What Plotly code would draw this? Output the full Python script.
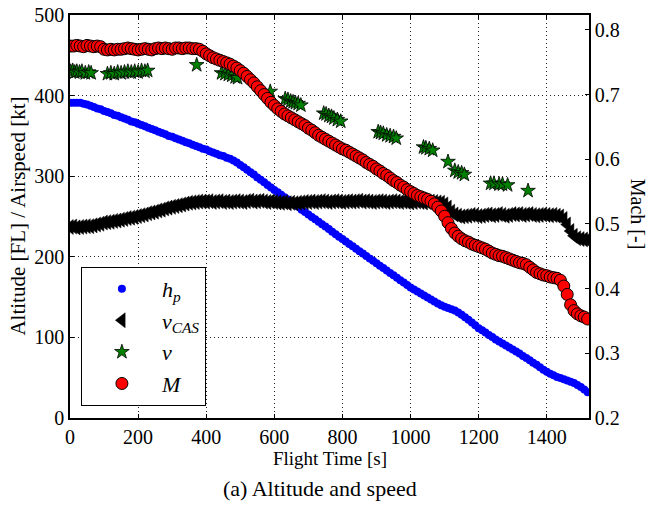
import plotly.graph_objects as go

# sample times [s] for the densely logged series (10 s spacing)
t = list(range(0, 1521, 10))

# pressure altitude h_p [FL]
h_p = [391, 391, 391, 391, 390, 389, 387.5, 386, 384, 383,
       381, 379.5, 378, 376, 375, 373, 371.5, 370, 368, 367,
       365, 363.5, 362, 360, 358.5, 357, 355, 353.5, 352, 350,
       349, 347, 345.5, 344, 342, 341, 339, 337.5, 336, 334,
       333, 331, 329.5, 328, 326, 325, 323, 321.5, 319.5, 317,
       314, 311, 308, 305, 302, 298.5, 295.5, 292.5, 289, 286,
       283, 280, 277, 274, 271, 268, 265, 262, 258.5, 255.5,
       252.5, 249.5, 246.5, 243.5, 240.5, 237.5, 234.5, 231, 228, 225,
       222, 219, 216, 213, 210, 207, 204, 201, 198, 195,
       192, 189, 186, 183, 180, 177, 174, 171, 168, 165,
       162, 159.5, 157, 154.5, 152, 149.5, 147, 144.5, 142, 140,
       138, 136.5, 135, 133.5, 131, 128, 125, 122, 118.5, 115,
       111.5, 109, 106, 103, 100.5, 97.5, 95, 92.5, 90, 87.5,
       85, 82.5, 80, 77, 74.5, 71.5, 68.5, 66, 63, 60,
       57.5, 55, 53, 51, 49.5, 48, 46.5, 45, 43.5, 41,
       38.5, 35.5, 32]

# calibrated airspeed v_CAS [kt]
v_cas = [237, 237.5, 236.5, 237, 237.5, 238, 238, 239, 240, 241,
         242.5, 243, 243.5, 244.5, 245, 246, 247, 248, 248.5, 249.5,
         250.5, 251.5, 252.5, 254, 255, 256, 257.5, 258.5, 260, 261,
         262, 263, 264, 265, 266, 267, 267.5, 268, 268.5, 268.5,
         268.5, 269, 268, 268.5, 269, 268, 268.5, 268, 268.5, 269,
         268.5, 268, 269, 269.5, 268.5, 269, 269.5, 268.5, 268, 268.5,
         268, 267.5, 267, 267.5, 266.5, 267, 266.5, 267, 267.5, 268,
         268, 268.5, 268, 268.5, 269, 268.5, 268, 268.5, 269, 268.5,
         268, 268.5, 269, 268.5, 269, 269.5, 268.5, 269, 268.5, 268,
         268.5, 269, 268.5, 268, 268.5, 269, 268.5, 268, 268.5, 268,
         267.5, 268, 268.5, 268, 267.5, 268, 268.5, 268, 267.5, 267,
         265, 261, 256, 252.5, 251, 250, 250.5, 251, 252, 251.5,
         250.5, 251, 252, 252.5, 251.5, 252, 253, 252, 251, 252,
         253, 252.5, 253, 252, 252.5, 253, 252, 251.5, 252, 252.5,
         252, 251.5, 252, 251, 250, 247, 240, 232, 226, 223,
         222, 221.5, 221]

# Mach number M [-]
mach = [.775, .775, .776, .775, .774, .776, .775, .774, .775, .774,
        .770, .769, .770, .769, .770, .770, .771, .772, .771, .770,
        .769, .770, .771, .770, .769, .771, .772, .771, .772, .771,
        .770, .772, .772, .771, .772, .772, .771, .771, .770, .767,
        .763, .760, .757, .755, .753, .751, .749, .747, .744, .741,
        .737, .733, .728, .723, .718, .712, .706, .700, .694, .688,
        .683, .678, .674, .670, .667, .664, .661, .658, .655, .652,
        .648, .645, .641, .637, .634, .631, .628, .625, .622, .619,
        .616, .614, .611, .608, .605, .602, .599, .595, .592, .589,
        .585, .582, .578, .575, .571, .567, .564, .560, .557, .553,
        .550, .547, .544, .542, .540, .538, .535, .531, .526, .520,
        .512, .502, .493, .486, .481, .477, .474, .472, .469, .467,
        .465, .463, .461, .458, .455, .453, .451, .450, .448, .446,
        .444, .442, .440, .439, .437, .433, .429, .425, .423, .421,
        .420, .418, .417, .416, .413, .404, .391, .375, .366, .361,
        .358, .356, .353]

# true airspeed v [kt] (sparse samples)
v_t = [2, 8, 14, 20, 28, 35, 45, 55, 62,
       110, 120, 130, 140, 150, 160, 170, 180, 190, 200, 210, 220, 228,
       372,
       445, 455, 465, 475, 485, 492,
       588,
       632, 640, 648, 655, 662, 670, 678,
       745, 752, 760, 768, 775, 785, 795,
       905, 912, 920, 930, 940, 950, 958,
       1038, 1045, 1055, 1065,
       1110,
       1130, 1140, 1150, 1158,
       1235, 1245, 1260, 1270, 1285,
       1345]
v_tas = [430, 431, 429, 430, 429, 430, 428, 429, 428,
         427, 428, 427, 429, 428, 429, 430, 429, 430, 429, 431, 430, 431,
         438,
         428, 427, 426, 425, 423, 422,
         405,
         396, 395, 393, 392, 391, 390, 388,
         378, 377, 375, 374, 372, 370, 368,
         355, 354, 353, 351, 350, 349, 347,
         336, 335, 334, 332,
         318,
         307, 305, 304, 302,
         291, 291, 290, 290, 289,
         282]

x_ticks = [0, 200, 400, 600, 800, 1000, 1200, 1400]
y_ticks = [0, 100, 200, 300, 400, 500]
y2_ticks = [0.2, 0.3, 0.4, 0.5, 0.6, 0.7, 0.8]

FONT = "'Liberation Serif', 'Times New Roman', 'DejaVu Serif', serif"

fig = go.Figure()
fig.add_trace(go.Scatter(x=t, y=h_p, mode="markers", name="<i>h<sub>p</sub></i>",
                         marker=dict(color="#0000ff", size=8, line=dict(width=0))))
fig.add_trace(go.Scatter(x=t, y=v_cas, mode="markers", name="<i>v<sub>CAS</sub></i>",
                         marker=dict(color="black", symbol="triangle-left", size=13,
                                     line=dict(width=0.5, color="black"))))
fig.add_trace(go.Scatter(x=v_t, y=v_tas, mode="markers", name="<i>v</i>",
                         marker=dict(color="#008000", symbol="star", size=11,
                                     line=dict(width=0.8, color="black"))))
fig.add_trace(go.Scatter(x=t, y=mach, mode="markers", name="<i>M</i>", yaxis="y2",
                         marker=dict(color="#ff0000", size=12,
                                     line=dict(width=1, color="black"))))

axis_common = dict(ticks="inside", ticklen=4, tickcolor="black", showline=True,
                   linecolor="black", linewidth=1.5, zeroline=False, automargin=False,
                   tickfont=dict(family=FONT, size=20, color="black"))

fig.update_layout(
    width=652, height=508,
    margin=dict(l=70, r=63, t=15, b=90, autoexpand=False),
    paper_bgcolor="white", plot_bgcolor="white",
    font=dict(family=FONT, size=20, color="black"),
    showlegend=True,
    legend=dict(x=0.021, y=0.375, xanchor="left", yanchor="top",
                bgcolor="white", bordercolor="black", borderwidth=1,
                font=dict(family=FONT, size=22, color="black"), itemwidth=70),
    xaxis=dict(range=[0, 1524], tickvals=x_ticks, mirror="ticks",
               showgrid=True, gridcolor="#222", gridwidth=1, griddash="1px,3px",
               **axis_common),
    yaxis=dict(range=[0, 500], tickvals=y_ticks, mirror=True,
               showgrid=True, gridcolor="#222", gridwidth=1, griddash="1px,3px",
               **axis_common),
    yaxis2=dict(range=[0.2, 0.823], tickvals=y2_ticks, tickformat=".1f",
                overlaying="y", side="right", showgrid=False, **axis_common),
    annotations=[
        dict(text="Flight Time [s]", x=0.5, y=-0.0993, xref="paper", yref="paper",
             xanchor="center", yanchor="middle", showarrow=False,
             font=dict(family=FONT, size=19, color="black")),
        dict(text="Altitude [FL] / Airspeed [kt]", x=-0.102, y=0.5, xref="paper", yref="paper",
             xanchor="center", yanchor="middle", showarrow=False, textangle=-90,
             font=dict(family=FONT, size=21, color="black")),
        dict(text="Mach [-]", x=1.0938, y=0.505, xref="paper", yref="paper",
             xanchor="center", yanchor="middle", showarrow=False, textangle=90,
             font=dict(family=FONT, size=20, color="black")),
        dict(text="(a) Altitude and speed", x=0.4817, y=-0.1737, xref="paper", yref="paper",
             xanchor="center", yanchor="middle", showarrow=False,
             font=dict(family=FONT, size=22, color="black")),
    ],
)

fig.write_html("out.html", config={"displayModeBar": False},
               post_script="document.body.style.margin='0';document.body.style.overflow='hidden';")
